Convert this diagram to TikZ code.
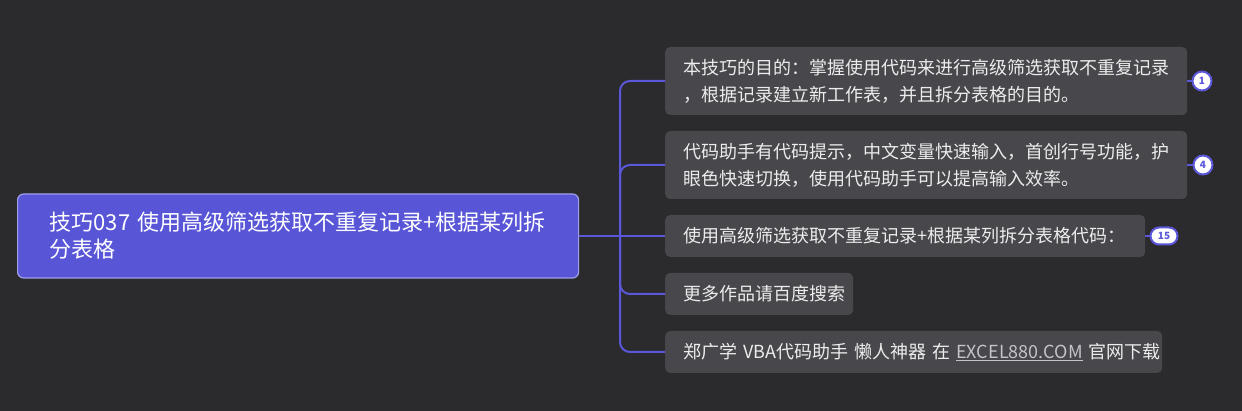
\documentclass[tikz,border=0pt]{standalone}
\usepackage{fontspec}
\setmainfont{Noto Sans CJK SC}
\usepackage{xcolor}
\definecolor{canvas}{HTML}{2B2B2E}
\definecolor{topicfill}{HTML}{5856D6}
\definecolor{topicline}{HTML}{A09FEA}
\definecolor{leaffill}{HTML}{48474C}
\definecolor{leaftext}{HTML}{ECECEC}
\definecolor{linkcol}{HTML}{5A57D8}
\definecolor{urlcol}{HTML}{C4C4C8}

\begin{document}
\begin{tikzpicture}[x=1pt,y=-1pt,
    topic/.style={rectangle,rounded corners=6pt,fill=topicfill,draw=topicline,line width=1.2pt,
        anchor=west,align=left,inner xsep=32pt,inner ysep=0pt,minimum height=84pt,
        text=white,font=\fontsize{22}{27}\selectfont},
    leaf/.style={rectangle,rounded corners=5pt,fill=leaffill,anchor=west,align=left,
        inner xsep=18pt,inner ysep=0pt,text=leaftext,font=\fontsize{18}{27}\selectfont},
    badge/.style={circle,draw=linkcol,line width=2pt,fill=white,text=linkcol,inner sep=0pt,
        minimum size=19pt,font=\bfseries\fontsize{10}{10}\selectfont},
    link/.style={draw=linkcol,line width=2pt}]
    \path[fill=canvas] (0,0) rectangle (1242,411);

    \node[topic,text width=497pt] (root) at (17,236) {\mbox{技巧037 使用高级筛选获取不重复记录+根据某列拆}\\分表格};

    \node[leaf,text width=486pt,minimum height=68pt] (goal) at (665,81) {\mbox{本技巧的目的：掌握使用代码来进行高级筛选获取不重复记录}\\，根据记录建立新工作表，并且拆分表格的目的。};
    \node[leaf,text width=486pt,minimum height=68pt] (helper) at (665,165) {\mbox{代码助手有代码提示，中文变量快速输入，首创行号功能，护}\\眼色快速切换，使用代码助手可以提高输入效率。};
    \node[leaf,text width=444pt,minimum height=42pt] (code) at (665,236) {\mbox{使用高级筛选获取不重复记录+根据某列拆分表格代码：}};
    \node[leaf,text width=152pt,minimum height=42pt] (more) at (665,294) {\mbox{更多作品请百度搜索}};
    \node[leaf,text width=461pt,minimum height=42pt] (tool) at (665,352) {\mbox{郑广学 VBA代码助手 懒人神器 在 {\color{urlcol}\underline{EXCEL880.COM}} 官网下载}};

    \node[badge] (cnt1) at (1202,81) {1};
    \node[badge] (cnt4) at (1203,165) {4};
    \node[badge,rectangle,rounded corners=8.5pt,minimum width=27pt,minimum height=17pt] (cnt15) at (1164,236) {15};

    \coordinate (trunk) at (620,236);
    \draw[link] (root.east) -- (trunk);
    \draw[link,rounded corners=10pt] (trunk) |- (goal.west);
    \draw[link,rounded corners=10pt] (trunk) |- (helper.west);
    \draw[link] (trunk) -- (code.west);
    \draw[link,rounded corners=10pt] (trunk) |- (more.west);
    \draw[link,rounded corners=10pt] (trunk) |- (tool.west);

    \draw[link] (goal.east) -- (cnt1);
    \draw[link] (helper.east) -- (cnt4);
    \draw[link] (code.east) -- (cnt15);
\end{tikzpicture}
\end{document}
